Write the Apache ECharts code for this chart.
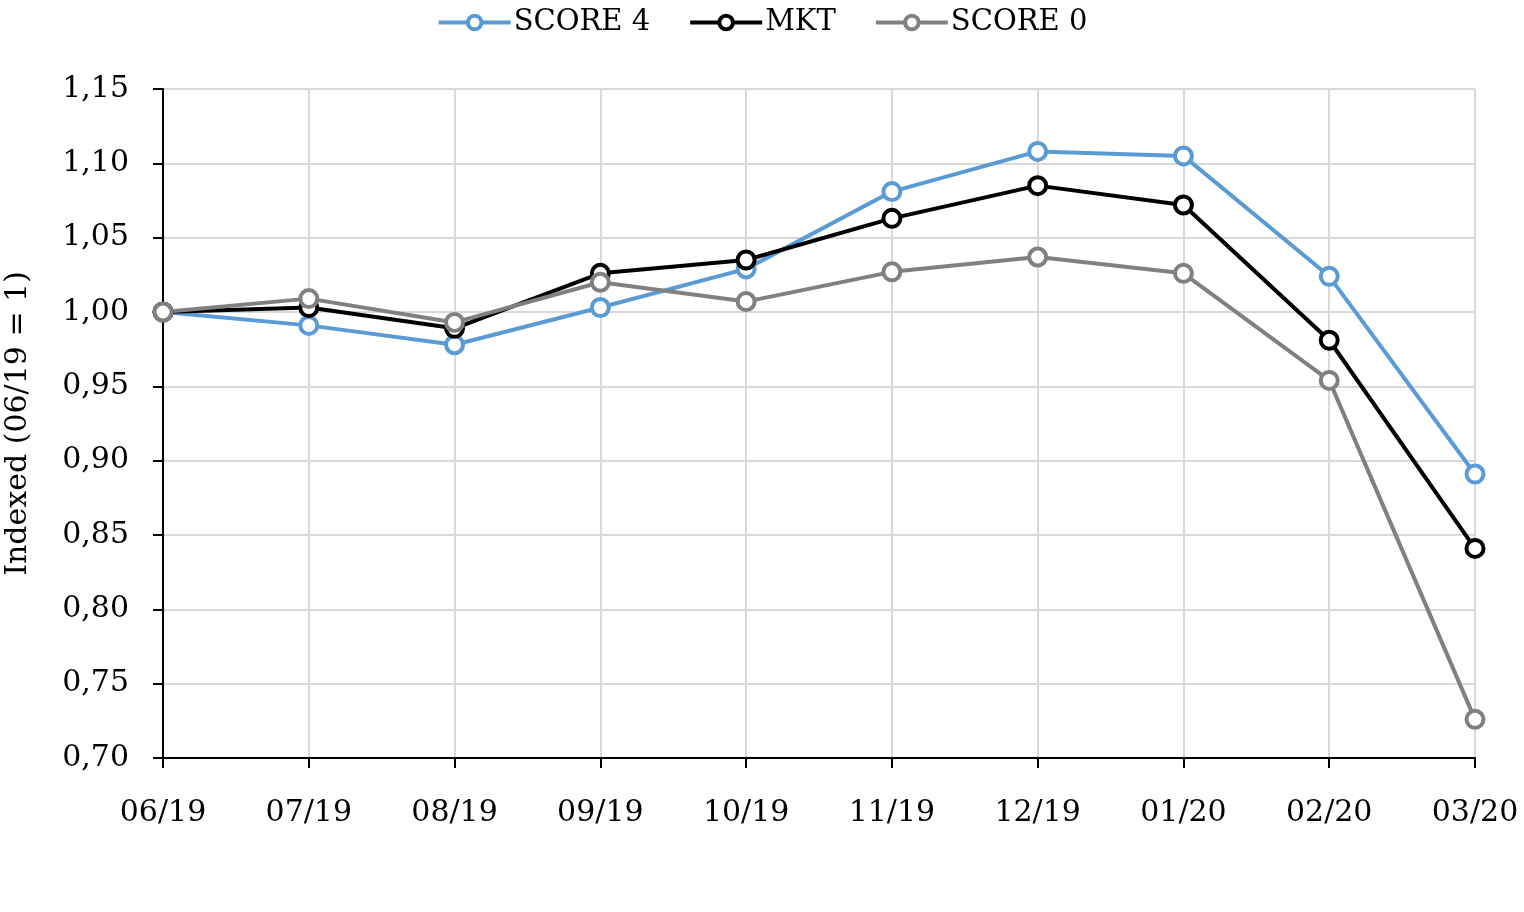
<!DOCTYPE html>
<html>
<head>
<meta charset="utf-8">
<script src="https://cdn.jsdelivr.net/npm/echarts@6/dist/echarts.min.js"></script>
<style>
html,body{margin:0;padding:0;background:#fff;}
#chart{width:1524px;height:912px;}
</style>
</head>
<body>
<div id="chart"></div>
<script>
const categories = ['06/19','07/19','08/19','09/19','10/19','11/19','12/19','01/20','02/20','03/20'];
const score4 = [1.000, 0.991, 0.978, 1.003, 1.029, 1.081, 1.108, 1.105, 1.024, 0.891];
const mkt    = [1.000, 1.003, 0.989, 1.026, 1.035, 1.063, 1.085, 1.072, 0.981, 0.841];
const score0 = [1.000, 1.009, 0.993, 1.020, 1.007, 1.027, 1.037, 1.026, 0.954, 0.726];
const yTicks = [0.70, 0.75, 0.80, 0.85, 0.90, 0.95, 1.00, 1.05, 1.10, 1.15];

const FONT = 'DejaVu Serif';
const chart = echarts.init(document.getElementById('chart'));
function mk(name, data, color){
  return {
    name, type:'line', data,
    symbol:'circle', symbolSize:17,
    lineStyle:{color, width:4},
    itemStyle:{color:'#ffffff', borderColor:color, borderWidth:4},
    emphasis:{disabled:true},
    animation:false
  };
}
chart.setOption({
  backgroundColor:'#fff',
  textStyle:{fontFamily:FONT},
  legend:{
    top:3, left:'center',
    itemWidth:72, itemHeight:17, itemGap:38,
    lineStyle:{width:4},
    itemStyle:{borderWidth:4},
    textStyle:{fontFamily:FONT, fontSize:29, color:'#000', padding:[0,0,0,-2]},
    data:['SCORE 4','MKT','SCORE 0']
  },
  grid:{left:163, right:49, top:89, bottom:154, containLabel:false, outerBoundsMode:'none'},
  xAxis:{
    type:'category', data:categories, boundaryGap:false,
    axisLine:{lineStyle:{color:'#000', width:2}},
    axisTick:{show:true, length:10, lineStyle:{color:'#000', width:2}, alignWithLabel:true},
    axisLabel:{fontFamily:FONT, fontSize:30, color:'#000', margin:40},
    splitLine:{show:true, lineStyle:{color:'#d9d9d9', width:2}}
  },
  yAxis:{
    type:'value', min:yTicks[0], max:yTicks[yTicks.length-1], interval:0.05,
    name:'Indexed (06/19 = 1)', nameLocation:'middle', nameGap:130,
    nameTextStyle:{fontFamily:FONT, fontSize:30, color:'#000'},
    axisLine:{show:true, lineStyle:{color:'#000', width:2}},
    axisTick:{show:true, length:10, lineStyle:{color:'#000', width:2}},
    axisLabel:{fontFamily:FONT, fontSize:30, color:'#000', margin:34,
      formatter:v=>v.toFixed(2).replace('.',',')},
    splitLine:{show:true, lineStyle:{color:'#d9d9d9', width:2}}
  },
  series:[
    mk('SCORE 4', score4, '#5B9BD5'),
    mk('MKT', mkt, '#000000'),
    mk('SCORE 0', score0, '#808080')
  ]
});
</script>
</body>
</html>
